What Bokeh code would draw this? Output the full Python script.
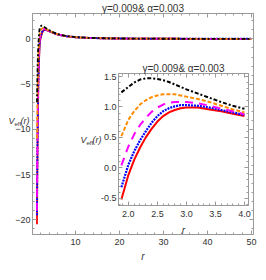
from bokeh.plotting import figure
from bokeh.models import FixedTicker, LinearAxis, Label, NumeralTickFormatter, Range1d
from bokeh.embed import file_html
from bokeh.resources import INLINE

FONT = "Liberation Sans Narrow, Liberation Sans, Arial, sans-serif"

title_text = "\u03b3=0.009& \u03b1=0.003"

# ---------------- data ----------------
# near-horizon part of the main panel
r_near = [1.25, 1.3, 1.4, 1.5, 1.6, 1.7, 1.8]
red_near = [-20.5, -16.5, -10.5, -6.8, -4.3, -2.6, -1.3]
blue_near = [-19.5, -15.5, -9.8, -6.2, -3.8, -2.1, -0.95]
magenta_near = [-19.0, -14.5, -8.8, -5.3, -3.0, -1.5, -0.55]
orange_near = [-11.0, -8.5, -5.2, -3.0, -1.6, -0.6, 0.1]
black_near = [-7.0, -5.2, -2.8, -1.3, -0.3, 0.4, 0.95]

# zoomed region (inset)
r_in = [1.88, 2.0, 2.1, 2.2, 2.3, 2.4, 2.5, 2.6, 2.7, 2.8, 2.9, 3.0, 3.2, 3.4, 3.6, 3.8, 4.0]
red_in = [-0.52, -0.12, 0.13, 0.33, 0.50, 0.64, 0.76, 0.85, 0.91, 0.95, 0.98, 0.99, 0.99, 0.96, 0.93, 0.89, 0.85]
blue_in = [-0.32, 0.05, 0.27, 0.45, 0.60, 0.74, 0.85, 0.93, 0.98, 1.01, 1.03, 1.03, 1.02, 0.99, 0.95, 0.91, 0.87]
magenta_in = [0.04, 0.35, 0.55, 0.70, 0.82, 0.92, 0.99, 1.04, 1.07, 1.08, 1.08, 1.08, 1.06, 1.02, 0.97, 0.93, 0.88]
orange_in = [0.52, 0.79, 0.93, 1.04, 1.11, 1.16, 1.19, 1.21, 1.21, 1.21, 1.19, 1.17, 1.13, 1.08, 1.02, 0.96, 0.91]
black_in = [1.24, 1.33, 1.40, 1.45, 1.47, 1.47, 1.46, 1.44, 1.41, 1.37, 1.33, 1.29, 1.22, 1.15, 1.08, 1.02, 0.97]

# far tail of the main panel
r_far = [5, 6, 8, 10, 13, 16, 20, 25, 30, 40, 50]
red_far = [0.64, 0.47, 0.28, 0.18, 0.11, 0.07, 0.045, 0.03, 0.02, 0.01, 0.007]
blue_far = [0.66, 0.48, 0.29, 0.19, 0.11, 0.07, 0.045, 0.03, 0.02, 0.01, 0.007]
magenta_far = [0.68, 0.50, 0.30, 0.19, 0.11, 0.07, 0.045, 0.03, 0.02, 0.01, 0.007]
orange_far = [0.70, 0.51, 0.30, 0.20, 0.12, 0.08, 0.05, 0.03, 0.02, 0.01, 0.007]
black_far = [0.73, 0.53, 0.31, 0.20, 0.12, 0.08, 0.05, 0.03, 0.02, 0.01, 0.007]

main_xticks = [10, 20, 30, 40, 50]
main_xminor = [2, 4, 6, 8, 12, 14, 16, 18, 22, 24, 26, 28, 32, 34, 36, 38, 42, 44, 46, 48]
main_yticks = [-20, -15, -10, -5, 0]
main_yminor = [-21, -19, -18, -17, -16, -14, -13, -12, -11, -9, -8, -7, -6, -4, -3, -2, -1, 1, 2]

in_xticks = [2.0, 2.5, 3.0, 3.5, 4.0]
in_xminor = [1.9, 2.1, 2.2, 2.3, 2.4, 2.6, 2.7, 2.8, 2.9, 3.1, 3.2, 3.3, 3.4, 3.6, 3.7, 3.8, 3.9]
in_yticks = [-0.5, 0.0, 0.5, 1.0, 1.5]
in_yminor = [-0.6, -0.4, -0.3, -0.2, -0.1, 0.1, 0.2, 0.3, 0.4, 0.6, 0.7, 0.8, 0.9, 1.1, 1.2, 1.3, 1.4]

series = [
    # name, near, inset, far, colour, dash, width
    ("red", red_near, red_in, red_far, "#FF0000", "solid", 2.0),
    ("blue", blue_near, blue_in, blue_far, "#0000FF", "2 1", 2.2),
    ("magenta", magenta_near, magenta_in, magenta_far, "#FF00FF", "8 6", 2.0),
    ("orange", orange_near, orange_in, orange_far, "#FF8C00", "4 2", 2.0),
    ("black", black_near, black_in, black_far, "#000000", "4 2 2 2", 2.0),
]

FRAME = "#9a9a9a"
LABEL = "#333333"


def style_axis(ax, ticks, show):
    ax.axis_line_color = FRAME
    ax.major_tick_line_color = FRAME
    ax.minor_tick_line_color = FRAME
    ax.major_tick_in = 4
    ax.major_tick_out = 0
    ax.minor_tick_in = 2
    ax.minor_tick_out = 0
    ax.major_label_text_font = FONT
    ax.major_label_text_color = LABEL
    ax.major_label_text_font_size = "9px"
    if not show:
        ax.major_label_overrides = {t: "" for t in ticks}
        ax.major_label_text_color = None
        ax.major_label_standoff = 0


def style_fig(f):
    f.grid.visible = False
    f.outline_line_color = FRAME
    f.background_fill_color = "white"
    f.title.text = title_text
    f.title.align = "center"
    f.title.text_font = FONT
    f.title.text_font_size = "10px"
    f.title.text_font_style = "normal"
    f.title.text_color = LABEL
    f.title.standoff = 0
    f.title.offset = 0


def ylabel_box(left, top):
    """Tiny transparent canvas holding the horizontal V_eff(r) label."""
    t = figure(width=28, height=14, output_backend="svg", toolbar_location=None,
               x_range=Range1d(0, 28), y_range=Range1d(0, 14), x_axis_type=None, y_axis_type=None,
               min_border=0, styles={"position": "absolute", "left": f"{left}px", "top": f"{top}px"})
    t.grid.visible = False
    t.outline_line_color = None
    t.background_fill_color = None
    t.border_fill_color = None
    base = dict(text_font=FONT, text_color=LABEL, x_units="screen", y_units="screen",
                text_align="left", text_baseline="middle")
    t.add_layout(Label(x=0, y=8, text="V", text_font_size="9px", text_font_style="italic", **base))
    t.add_layout(Label(x=6, y=5, text="eff", text_font_size="6px", **base))
    t.add_layout(Label(x=12, y=8, text="(r)", text_font_size="9px", text_font_style="italic", **base))
    return t


# ---------------- main panel ----------------
X0, X1 = 0.23, 50.45
Y0, Y1 = -21.62, 2.81
p = figure(width=258, height=264, output_backend="svg", toolbar_location=None,
           x_range=Range1d(X0, X1), y_range=Range1d(Y0, Y1),
           min_border_left=32, min_border_right=5, min_border_top=0, min_border_bottom=28)
style_fig(p)

p.xaxis.ticker = FixedTicker(ticks=main_xticks, minor_ticks=main_xminor)
p.yaxis.ticker = FixedTicker(ticks=main_yticks, minor_ticks=main_yminor)
style_axis(p.xaxis[0], main_xticks, True)
style_axis(p.yaxis[0], main_yticks, True)
p.xaxis.major_label_standoff = 4
p.yaxis.major_label_standoff = 2
p.xaxis.axis_label = "r"
p.xaxis.axis_label_text_font = FONT
p.xaxis.axis_label_text_font_size = "10px"
p.xaxis.axis_label_text_font_style = "italic"
p.xaxis.axis_label_text_color = LABEL
p.xaxis.axis_label_standoff = 3
top_ax = LinearAxis(ticker=FixedTicker(ticks=main_xticks, minor_ticks=main_xminor))
right_ax = LinearAxis(ticker=FixedTicker(ticks=main_yticks, minor_ticks=main_yminor))
style_axis(top_ax, main_xticks, False)
style_axis(right_ax, main_yticks, False)
p.add_layout(top_ax, "above")
p.add_layout(right_ax, "right")

for name, near, mid, far, col, dash, w in series:
    rr = r_near + r_in + r_far
    vv = near + mid + far
    p.line(rr, vv, line_color=col, line_dash=dash, line_width=w * 0.9)

# ---------------- inset panel ----------------
IX0, IX1 = 1.83, 4.07
IY0, IY1 = -0.62, 1.55
q = figure(width=178, height=180, output_backend="svg", toolbar_location=None,
           x_range=Range1d(IX0, IX1), y_range=Range1d(IY0, IY1),
           min_border_left=40, min_border_right=8, min_border_top=15, min_border_bottom=30,
           styles={"position": "absolute", "left": "78px", "top": "58px"})
style_fig(q)
q.border_fill_color = None
q.xaxis.ticker = FixedTicker(ticks=in_xticks, minor_ticks=in_xminor)
q.yaxis.ticker = FixedTicker(ticks=in_yticks, minor_ticks=in_yminor)
q.xaxis.formatter = NumeralTickFormatter(format="0.0")
q.yaxis.formatter = NumeralTickFormatter(format="0.0")
style_axis(q.xaxis[0], in_xticks, True)
style_axis(q.yaxis[0], in_yticks, True)
q.xaxis.major_label_standoff = 5
q.yaxis.major_label_standoff = 2
q.xaxis.axis_label = "r"
q.xaxis.axis_label_text_font = FONT
q.xaxis.axis_label_text_font_size = "10px"
q.xaxis.axis_label_text_font_style = "italic"
q.xaxis.axis_label_text_color = LABEL
q.xaxis.axis_label_standoff = 5
q_top = LinearAxis(ticker=FixedTicker(ticks=in_xticks, minor_ticks=in_xminor))
q_right = LinearAxis(ticker=FixedTicker(ticks=in_yticks, minor_ticks=in_yminor))
style_axis(q_top, in_xticks, False)
style_axis(q_right, in_yticks, False)
q.add_layout(q_top, "above")
q.add_layout(q_right, "right")

for name, near, mid, far, col, dash, w in series:
    q.line(r_in, mid, line_color=col, line_dash=dash, line_width=w)

lab_main = ylabel_box(8, 114)
lab_inset = ylabel_box(80, 133)

open("out.html", "w").write(file_html([p, q, lab_main, lab_inset], INLINE))
